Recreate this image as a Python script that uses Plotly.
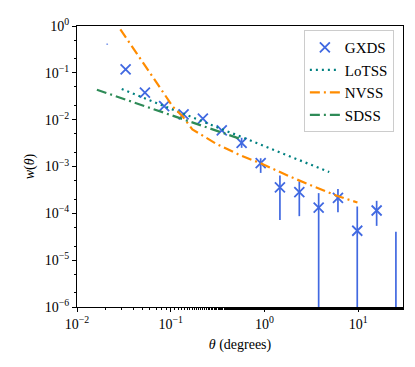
import plotly.graph_objects as go

# GXDS angular correlation (bin centres in degrees)
gxds_theta = [0.021, 0.033, 0.053, 0.085, 0.137, 0.22, 0.35, 0.57, 0.91,
              1.46, 2.35, 3.78, 6.07, 9.75, 15.7, 25.2]
gxds_w = [None, 0.118, 0.0378, 0.0195, 0.0130, 0.0105, 0.00593, 0.0032, 0.00118,
          3.6e-4, 2.84e-4, 1.33e-4, 2.14e-4, 4.25e-5, 1.15e-4, None]
gxds_hi = [0.42, 0.124, 0.0395, 0.0203, 0.0136, 0.0110, 0.0063, 0.0041, 0.0015,
           6.4e-4, 4.8e-4, 2.7e-4, 3.3e-4, 1.4e-4, 1.85e-4, 4.05e-5]
gxds_lo = [0.40, 0.112, 0.0360, 0.0187, 0.0124, 0.0100, 0.0056, 0.0025, 7.3e-4,
           7.2e-5, 8.7e-5, 1e-8, 1.05e-4, 1e-8, 5.4e-5, 1e-8]

lotss_theta = [0.03, 0.05, 0.08, 0.13, 0.2, 0.3, 0.5, 0.8, 1.3, 2.0, 3.0, 4.9]
lotss_w = [0.045, 0.030, 0.0205, 0.0139, 0.0099, 0.0071, 0.0048, 0.0033,
           0.0022, 0.0016, 0.00113, 0.00076]

nvss_theta = [0.029, 0.05, 0.08, 0.106, 0.135, 0.17, 0.31, 0.55, 0.9, 1.9, 3.3, 6.0, 9.8]
nvss_w = [0.85, 0.166, 0.043, 0.0186, 0.0115, 0.0062, 0.0030, 0.00174, 0.00118,
          6.0e-4, 3.8e-4, 2.35e-4, 1.7e-4]

sdss_theta = [0.0163, 0.03, 0.06, 0.1, 0.2, 0.35, 0.55]
sdss_w = [0.0436, 0.0288, 0.0178, 0.0125, 0.0078, 0.0053, 0.0039]

BLUE = "#4169E1"
TEAL = "#008080"
ORANGE = "#FF8C00"
GREEN = "#2E8B57"
FONT = "Liberation Serif"

# error bars as vertical segments
ex, ey = [], []
for t, lo, hi in zip(gxds_theta, gxds_lo, gxds_hi):
    ex += [t, t, None]
    ey += [lo, hi, None]

fig = go.Figure()
fig.add_trace(go.Scatter(x=ex, y=ey, mode="lines", line=dict(color=BLUE, width=1.7),
                         showlegend=False, hoverinfo="skip"))
fig.add_trace(go.Scatter(x=gxds_theta, y=gxds_w, mode="markers", name="GXDS",
                         marker=dict(symbol="x-thin", size=10, color=BLUE,
                                     line=dict(width=1.8, color=BLUE))))
fig.add_trace(go.Scatter(x=lotss_theta, y=lotss_w, mode="lines", name="LoTSS",
                         line=dict(color=TEAL, width=2.2, dash="2px,4px")))
fig.add_trace(go.Scatter(x=nvss_theta, y=nvss_w, mode="lines", name="NVSS",
                         line=dict(color=ORANGE, width=2.2, dash="10px,4px,2px,4px")))
fig.add_trace(go.Scatter(x=sdss_theta, y=sdss_w, mode="lines", name="SDSS",
                         line=dict(color=GREEN, width=2.2, dash="10px,4px,2px,4px")))

sup = {-6: "−6", -5: "−5", -4: "−4", -3: "−3", -2: "−2", -1: "−1", 0: "0", 1: "1"}
axis_common = dict(type="log", showgrid=False, zeroline=False, showline=True,
                   linecolor="black", linewidth=1, mirror=True, ticks="outside",
                   ticklen=4, tickcolor="black", ticklabeloverflow="allow",
                   minor=dict(ticks="outside", ticklen=2, tickcolor="black", showgrid=False),
                   tickfont=dict(family=FONT, size=14, color="black"))

fig.update_xaxes(range=[-2, 1.477],
                 tickvals=[0.01, 0.1, 1, 10],
                 ticktext=[f"10<sup>{sup[k]}</sup>" for k in [-2, -1, 0, 1]],
                 title=dict(text="<i>θ</i> (degrees)", font=dict(family=FONT, size=14, color="black"),
                            standoff=8),
                 **axis_common)
fig.update_yaxes(range=[-6, 0],
                 tickvals=[10 ** k for k in range(-6, 1)],
                 ticktext=[f"10<sup>{sup[k]}</sup>" for k in range(-6, 1)],
                 title=dict(text="<i>w</i>(<i>θ</i>)", font=dict(family=FONT, size=14, color="black"),
                            standoff=6),
                 **axis_common)

# page body adds an 8px offset, so the figure is sized to fit inside the window
fig.update_layout(
    width=407, height=359,
    margin=dict(l=69, r=12, t=8, b=60),
    plot_bgcolor="white", paper_bgcolor="white",
    font=dict(family=FONT, size=14, color="black"),
    legend=dict(x=0.972, y=0.985, xanchor="right", yanchor="top",
                bgcolor="rgba(255,255,255,0.8)", bordercolor="#cccccc", borderwidth=1,
                font=dict(family=FONT, size=15), itemwidth=30, tracegroupgap=2),
)

fig.write_html("out.html")
